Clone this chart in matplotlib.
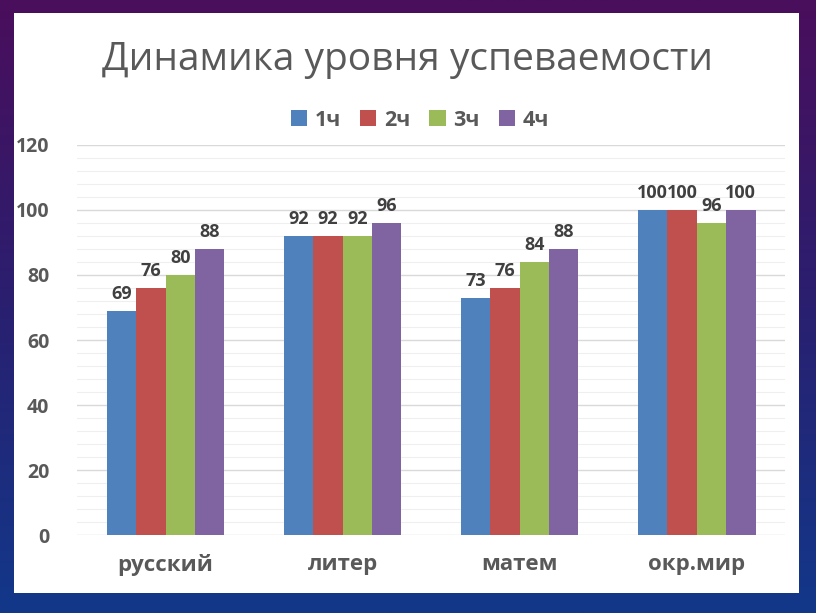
import matplotlib
matplotlib.use("Agg")
import matplotlib.pyplot as plt
import numpy as np
from matplotlib.patches import Rectangle
from matplotlib.colors import LinearSegmentedColormap

plt.rcParams['font.family'] = ['Open Sans', 'DejaVu Sans']

categories = ['русский', 'литер', 'матем', 'окр.мир']
series = ['1ч', '2ч', '3ч', '4ч']
values = [
    [69, 92, 73, 100],
    [76, 92, 76, 100],
    [80, 92, 84, 96],
    [88, 96, 88, 100],
]
colors = ['#4F81BD', '#C0504D', '#9BBB59', '#8064A2']

fig = plt.figure(figsize=(8.16, 6.13), dpi=100)

# slide background: purple -> blue gradient
bg = fig.add_axes([0, 0, 1, 1], zorder=-10)
grad = np.linspace(0, 1, 256).reshape(-1, 1)
cmap = LinearSegmentedColormap.from_list('bg', ['#4a0e5c', '#2a1f70', '#12388a'])
bg.imshow(grad, aspect='auto', cmap=cmap, extent=[0, 1, 0, 1], origin='upper')
bg.add_patch(Rectangle((0.017, 0.033), 0.962, 0.945, facecolor='white',
                       edgecolor='none', transform=bg.transAxes))
bg.set_xlim(0, 1)
bg.set_ylim(0, 1)
bg.axis('off')

ax = fig.add_axes([0.0944, 0.1272, 0.868, 0.6363])
ax.set_facecolor('none')

x = np.arange(len(categories))
width = 0.166
for i, (name, vals) in enumerate(zip(series, values)):
    pos = x + (i - 1.5) * width
    bars = ax.bar(pos, vals, width, color=colors[i], label=name, zorder=3)
    for b, v in zip(bars, vals):
        ax.text(b.get_x() + b.get_width() / 2, v + 2.5, str(v), ha='center', va='bottom',
                fontsize=13, fontweight='bold', color='#404040', zorder=4)

ax.set_xlim(-0.5, len(categories) - 0.5)
ax.set_ylim(0, 120)
ax.set_yticks(np.arange(0, 121, 20))
ax.set_yticks(np.arange(0, 121, 4), minor=True)
ax.grid(axis='y', which='major', color='#d9d9d9', linewidth=1, zorder=0)
ax.grid(axis='y', which='minor', color='#efefef', linewidth=0.8, zorder=0)
ax.set_xticks(x)
ax.set_xticklabels(categories)
for s in ax.spines.values():
    s.set_visible(False)
ax.tick_params(axis='both', which='both', length=0)
ax.tick_params(axis='y', labelsize=14, labelcolor='#595959', pad=20)
ax.tick_params(axis='x', labelsize=16, labelcolor='#595959', pad=14)
for lab in ax.get_yticklabels() + ax.get_xticklabels():
    lab.set_fontweight('bold')

fig.text(0.5, 0.902, 'Динамика уровня успеваемости', ha='center', va='center',
         fontsize=28, color='#595959')

leg = ax.legend(loc='center', bbox_to_anchor=(0.484, 1.064), ncol=4, frameon=False,
                handlelength=0.75, handleheight=0.75, handletextpad=0.35, columnspacing=0.9,
                prop={'size': 15.5, 'weight': 'bold'})
for t in leg.get_texts():
    t.set_color('#595959')

fig.savefig('out.png', dpi=100)
